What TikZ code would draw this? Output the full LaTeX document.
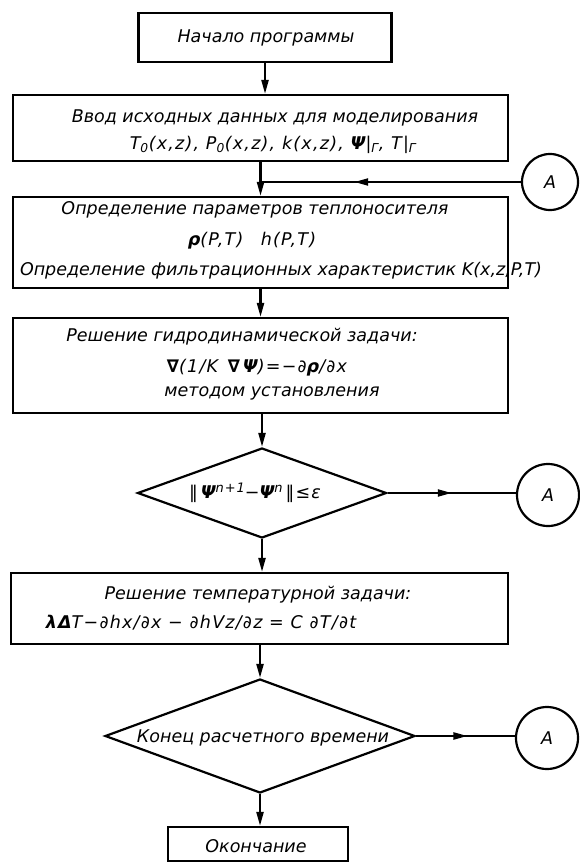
\documentclass[tikz,border=0pt]{standalone}
\usepackage{fontspec}
\setmainfont{DejaVu Sans}
\newfontfamily\formfont[LetterSpace=7]{DejaVu Sans}
\usetikzlibrary{shapes.geometric,arrows.meta,decorations.markings}
\newcommand\txtf{\fontsize{17.5}{20}\selectfont\itshape}
\newcommand\frmf{\fontsize{17.5}{20}\selectfont\formfont\itshape}
\newcommand\bsym[1]{{\bfseries #1}}
\newcommand\supr[1]{\raisebox{6pt}{\fontsize{13}{13}\selectfont #1}}
\begin{document}
\begin{tikzpicture}[x=1pt,y=-1pt,
  line width=2.2pt,
  blk/.style={draw, rectangle, inner sep=0pt},
  dec/.style={draw, diamond, aspect=1, inner sep=0pt},
  conn/.style={draw, circle, inner sep=0pt, minimum size=#1, font=\txtf},
  lbl/.style={font=\txtf, inner sep=0pt, anchor=center},
  frm/.style={font=\frmf, inner sep=0pt, anchor=center},
  tip/.style={-{Triangle[length=14pt,width=7pt]}},
  midtip/.style={postaction={decorate}, decoration={markings, mark=at position #1 with {\arrow{Triangle[length=14pt,width=7pt]}}}}
]
\useasboundingbox (0,0) rectangle (579,864);

% boxes
\node[blk, minimum width=253pt, minimum height=49pt] (b1) at (265,37.5) {};
\node[blk, minimum width=495pt, minimum height=66pt] (b2) at (260.5,128) {};
\node[blk, minimum width=495pt, minimum height=91pt] (b3) at (260.5,242.5) {};
\node[blk, minimum width=495pt, minimum height=95pt] (b4) at (260.5,365.5) {};
\node[dec, minimum width=249pt, minimum height=90pt] (d1) at (262,493) {};
\node[blk, minimum width=497pt, minimum height=71pt] (b5) at (259.5,608.5) {};
\node[dec, minimum width=310pt, minimum height=114pt] (d2) at (260,736) {};
\node[blk, minimum width=180pt, minimum height=34pt] (b6) at (258,844) {};

% connectors (circles)
\node[conn=56pt] (c1) at (550,182) {А};
\node[conn=62pt] (c2) at (548,495) {А};
\node[conn=62pt] (c3) at (547,738) {А};

% texts
\node[lbl] (t1) at (266,38) {Начало программы};
\node[lbl] (t2a) at (275,118) {Ввод исходных данных для моделирования};
\node[frm] (t2b) at (273,145) {T\textsubscript{0}(x,z), P\textsubscript{0}(x,z), k(x,z), \bsym{Ψ}|\textsubscript{Γ}, T|\textsubscript{Γ}};
\node[lbl] (t3a) at (255,210) {Определение параметров теплоносителя};
\node[frm] (t3b) at (252,241) {\bsym{ρ}(P,T)\quad h(P,T)};
\node[lbl] (t3c) at (281,271) {Определение фильтрационных характеристик K(x,z,P,T)};
\node[lbl] (t4a) at (242,337) {Решение гидродинамической задачи:};
\node[frm] (t4b) at (257,368) {\bsym{∇}(1/K\, \bsym{∇\,Ψ})=−∂\bsym{ρ}/∂x};
\node[lbl] (t4c) at (272,393) {методом установления};
\node[frm] (t5) at (255,493) {‖\,\bsym{Ψ}\supr{n+1}−\bsym{Ψ}\supr{n}\,‖≤ε};
\node[lbl] (t6a) at (258,595) {Решение температурной задачи:};
\node[frm] (t6b) at (201,623) {\bsym{λΔ}T−∂hx/∂x − ∂hVz/∂z = C ∂T/∂t};
\node[lbl] (t7) at (263,738) {Конец расчетного времени};
\node[lbl] (t8) at (256,846) {Окончание};

% main flow
\draw[tip] (b1.south) -- (b1.south |- b2.north);
\coordinate (j1) at (b2.south |- c1.west);
\draw[tip] (b2.south) -- (b3.north);
\draw[midtip=0.64] (c1.west) -- (j1);
\draw[tip] (b3.south) -- (b4.north);
\draw[tip] (b4.south -| d1.north) -- (d1.north);
\draw[tip] (d1.south) -- (d1.south |- b5.north);
\draw[tip] (b5.south -| d2.north) -- (d2.north);
\draw[tip] (d2.south) -- (d2.south |- b6.north);
\draw[midtip=0.5] (d1.east) -- (c2.west |- d1.east);
\draw[midtip=0.52] (d2.east) -- (c3.west |- d2.east);
\end{tikzpicture}
\end{document}
